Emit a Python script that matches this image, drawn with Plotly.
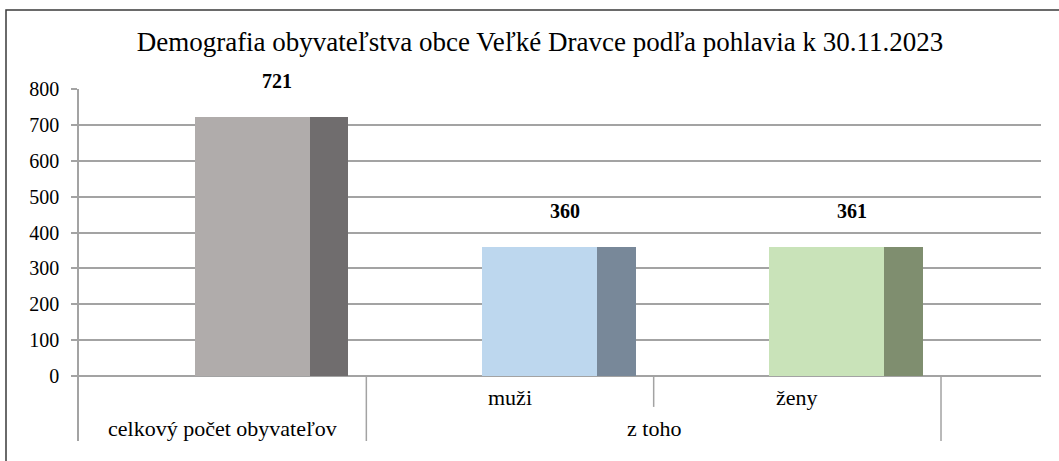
import plotly.graph_objects as go

# ---- data ----
categories = ["celkový počet obyvateľov", "muži", "ženy"]
level1_labels = ["", "muži", "ženy"]
group_labels = ["celkový počet obyvateľov", "z toho"]
group_spans = [(0, 1), (1, 3)]
values = [721, 360, 361]
y_ticks = [0, 100, 200, 300, 400, 500, 600, 700, 800]
title_text = "Demografia obyvateľstva obce Veľké Dravce podľa pohlavia k 30.11.2023"

# ---- style ----
front_colors = ["#b0acab", "#bdd7ee", "#c9e3b9"]
side_colors = ["#706d6e", "#788899", "#7f8e6f"]
grid_col = "#a3a3a3"
SERIF = "Liberation Serif"
X_MAX = 3.348
Y_MIN = -181
W, H = 1059, 461

idx = list(range(len(values)))

fig = go.Figure()
fig.add_trace(go.Bar(
    x=[i + 0.6025 for i in idx], y=values, width=0.40,
    marker=dict(color=front_colors, line=dict(width=0)),
    hoverinfo="skip", showlegend=False))
fig.add_trace(go.Bar(
    x=[i + 0.87 for i in idx], y=values, width=0.135,
    marker=dict(color=side_colors, line=dict(width=0)),
    hoverinfo="skip", showlegend=False))

# value labels
for i, v in zip(idx, values):
    fig.add_annotation(x=i + 0.69, y=v, xref="x", yref="y", text=f"<b>{v}</b>",
                       showarrow=False, yshift=36,
                       font=dict(family=SERIF, size=20, color="#000"))

# category axis dividers
shapes = []
for i in range(1, len(values) + 1):
    full = any(i == s[0] or i == s[1] for s in group_spans)
    shapes.append(dict(type="line", xref="x", yref="y", x0=i, x1=i, y0=0,
                       y1=Y_MIN if full else -86,
                       line=dict(color=grid_col, width=1.5)))

# level-1 labels
for i, lab in zip(idx, level1_labels):
    if lab:
        fig.add_annotation(x=i + 0.5, y=-61, xref="x", yref="y", text=lab,
                           showarrow=False,
                           font=dict(family=SERIF, size=22, color="#000"))
# group labels
for lab, (a, b) in zip(group_labels, group_spans):
    fig.add_annotation(x=(a + b) / 2, y=-145, xref="x", yref="y", text=lab,
                       showarrow=False,
                       font=dict(family=SERIF, size=22, color="#000"))

# outer chart border
shapes.append(dict(type="rect", xref="paper", yref="paper",
                   x0=(6 - 79) / 962, x1=1.2, y0=-0.3, y1=(441 - 10) / 352,
                   line=dict(color="#3a3a3a", width=1.5), fillcolor="rgba(0,0,0,0)"))

fig.update_layout(
    width=W, height=H,
    margin=dict(l=79, r=18, t=89, b=20),
    paper_bgcolor="white", plot_bgcolor="white",
    barmode="overlay", bargap=0,
    shapes=shapes,
    title=dict(text=title_text, xref="container", x=540 / W, xanchor="center",
               yref="container", y=1 - 42 / H, yanchor="middle",
               font=dict(family=SERIF, size=27, color="#000")),
    xaxis=dict(range=[0, X_MAX], showgrid=False, zeroline=False,
               showticklabels=False, ticks="", showline=False, fixedrange=True),
    yaxis=dict(range=[Y_MIN, 800], tickvals=y_ticks, ticktext=[str(t) for t in y_ticks],
               showgrid=True, gridcolor=grid_col, gridwidth=1.5, zeroline=False,
               showline=True, linecolor=grid_col, linewidth=1.5,
               ticks="outside", ticklen=6, tickcolor=grid_col, tickwidth=1.5,
               ticklabelstandoff=8,
               tickfont=dict(family=SERIF, size=20, color="#000"), fixedrange=True),
)

fig.write_html("out.html", config={"displayModeBar": False},
               post_script="document.body.style.margin='0';")
